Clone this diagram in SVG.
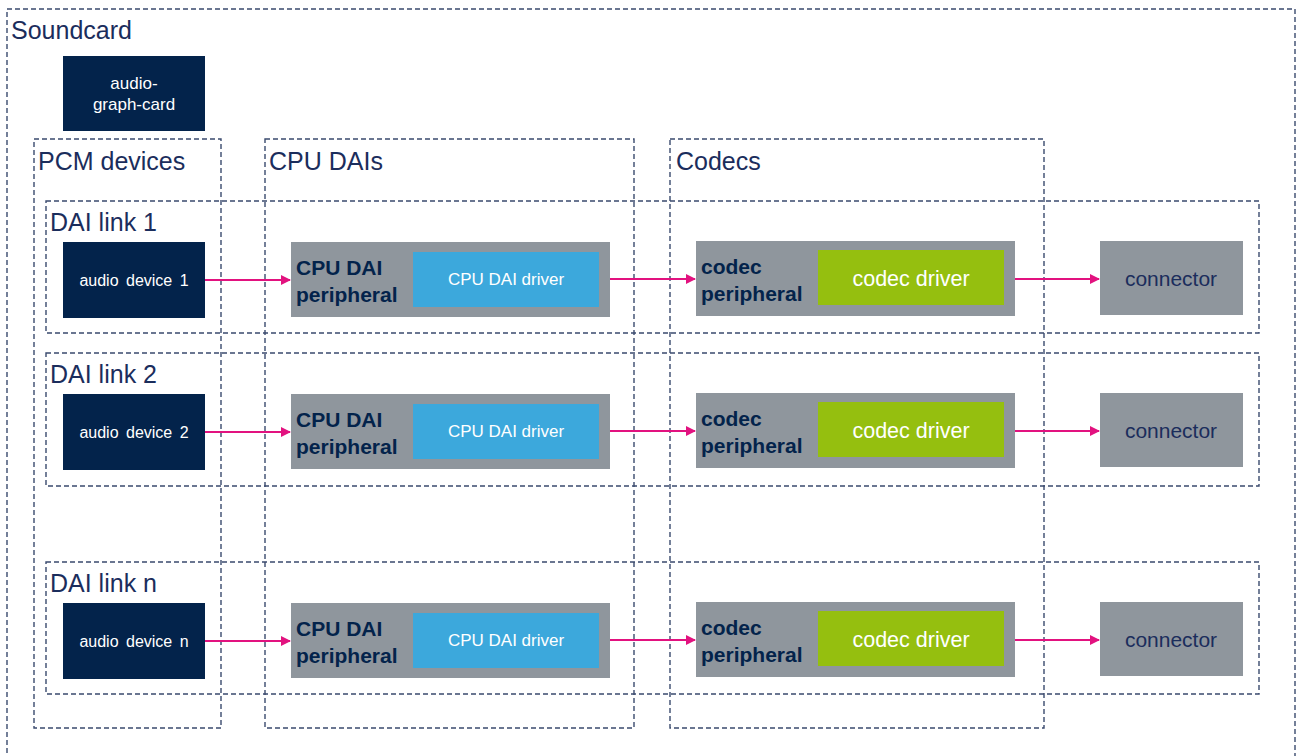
<svg xmlns="http://www.w3.org/2000/svg" width="1298" height="756" viewBox="0 0 1298 756">
<defs>
<style>
.dash{fill:none;stroke:#3a4a6e;stroke-width:1.4;stroke-dasharray:5 3}
.lbl{font-family:"Liberation Sans",Arial,sans-serif;font-size:25px;fill:#1b2d5c}
.navy{fill:#03234b}
.gray{fill:#8f969d}
.blue{fill:#3ca8dc}
.green{fill:#95bf0f}
.wt{font-family:"Liberation Sans",Arial,sans-serif;fill:#ffffff;text-anchor:middle}
.bt{font-family:"Liberation Sans",Arial,sans-serif;font-weight:bold;font-size:21px;fill:#03234b}
.ct{font-family:"Liberation Sans",Arial,sans-serif;font-size:21px;fill:#1b2d5c;text-anchor:middle}
.arr{stroke:#e2127f;stroke-width:2;fill:none;marker-end:url(#ah)}
</style>
<marker id="ah" markerWidth="10" markerHeight="10" refX="9" refY="5" orient="auto" markerUnits="userSpaceOnUse">
<path d="M0,0 L10,5 L0,10 z" fill="#e2127f"/>
</marker>
</defs>
<rect width="1298" height="756" fill="#ffffff"/>

<g id="soundcard">
<rect class="dash" x="7" y="9" width="1288" height="760"/>
<text class="lbl" x="11" y="39">Soundcard</text>
</g>

<g id="audio-graph-card">
<rect class="navy" x="63" y="56" width="142" height="75"/>
<text class="wt" font-size="17" x="134" y="89">audio-</text>
<text class="wt" font-size="17" x="134" y="110">graph-card</text>
</g>

<g id="pcm-devices">
<rect class="dash" x="34" y="139" width="187" height="589"/>
<text class="lbl" x="38" y="170">PCM devices</text>
</g>
<g id="cpu-dais">
<rect class="dash" x="265" y="139" width="369" height="589"/>
<text class="lbl" x="269" y="170">CPU DAIs</text>
</g>
<g id="codecs">
<rect class="dash" x="670" y="139" width="374" height="589"/>
<text class="lbl" x="676" y="170">Codecs</text>
</g>

<g id="dai-link-1">
<rect class="dash" x="46" y="201" width="1213" height="132"/>
<text class="lbl" x="50" y="231">DAI link 1</text>
</g>
<g id="dai-link-2">
<rect class="dash" x="46" y="353" width="1213" height="133"/>
<text class="lbl" x="50" y="383">DAI link 2</text>
</g>
<g id="dai-link-n">
<rect class="dash" x="46" y="562" width="1213" height="132"/>
<text class="lbl" x="50" y="592">DAI link n</text>
</g>

<!-- Row 1 -->
<g id="audio-device-1">
<rect class="navy" x="63" y="242" width="142" height="76"/>
<text class="wt" font-size="16" x="134" y="286" word-spacing="3">audio device 1</text>
</g>
<g id="cpu-dai-peripheral-1">
<rect class="gray" x="291" y="242" width="319" height="75"/>
<text class="bt" x="296" y="275">CPU DAI</text>
<text class="bt" x="296" y="302">peripheral</text>
</g>
<g id="cpu-dai-driver-1">
<rect class="blue" x="413" y="252" width="186" height="55"/>
<text class="wt" font-size="17" x="506" y="285">CPU DAI driver</text>
</g>
<g id="codec-peripheral-1">
<rect class="gray" x="696" y="241" width="319" height="75"/>
<text class="bt" x="701" y="274">codec</text>
<text class="bt" x="701" y="301">peripheral</text>
</g>
<g id="codec-driver-1">
<rect class="green" x="818" y="250" width="186" height="55"/>
<text class="wt" font-size="21.5" x="911" y="286">codec driver</text>
</g>
<g id="connector-1">
<rect class="gray" x="1100" y="241" width="143" height="74"/>
<text class="ct" x="1171" y="286">connector</text>
</g>

<!-- Row 2 -->
<g id="audio-device-2">
<rect class="navy" x="63" y="394" width="142" height="76"/>
<text class="wt" font-size="16" x="134" y="438" word-spacing="3">audio device 2</text>
</g>
<g id="cpu-dai-peripheral-2">
<rect class="gray" x="291" y="394" width="319" height="75"/>
<text class="bt" x="296" y="427">CPU DAI</text>
<text class="bt" x="296" y="454">peripheral</text>
</g>
<g id="cpu-dai-driver-2">
<rect class="blue" x="413" y="404" width="186" height="55"/>
<text class="wt" font-size="17" x="506" y="437">CPU DAI driver</text>
</g>
<g id="codec-peripheral-2">
<rect class="gray" x="696" y="393" width="319" height="75"/>
<text class="bt" x="701" y="426">codec</text>
<text class="bt" x="701" y="453">peripheral</text>
</g>
<g id="codec-driver-2">
<rect class="green" x="818" y="402" width="186" height="55"/>
<text class="wt" font-size="21.5" x="911" y="438">codec driver</text>
</g>
<g id="connector-2">
<rect class="gray" x="1100" y="393" width="143" height="74"/>
<text class="ct" x="1171" y="438">connector</text>
</g>

<!-- Row n -->
<g id="audio-device-n">
<rect class="navy" x="63" y="603" width="142" height="76"/>
<text class="wt" font-size="16" x="134" y="647" word-spacing="3">audio device n</text>
</g>
<g id="cpu-dai-peripheral-n">
<rect class="gray" x="291" y="603" width="319" height="75"/>
<text class="bt" x="296" y="636">CPU DAI</text>
<text class="bt" x="296" y="663">peripheral</text>
</g>
<g id="cpu-dai-driver-n">
<rect class="blue" x="413" y="613" width="186" height="55"/>
<text class="wt" font-size="17" x="506" y="646">CPU DAI driver</text>
</g>
<g id="codec-peripheral-n">
<rect class="gray" x="696" y="602" width="319" height="75"/>
<text class="bt" x="701" y="635">codec</text>
<text class="bt" x="701" y="662">peripheral</text>
</g>
<g id="codec-driver-n">
<rect class="green" x="818" y="611" width="186" height="55"/>
<text class="wt" font-size="21.5" x="911" y="647">codec driver</text>
</g>
<g id="connector-n">
<rect class="gray" x="1100" y="602" width="143" height="74"/>
<text class="ct" x="1171" y="647">connector</text>
</g>

<g id="connectors">
<line class="arr" x1="205" y1="280" x2="290" y2="280"/>
<line class="arr" x1="610" y1="279" x2="695" y2="279"/>
<line class="arr" x1="1015" y1="279" x2="1099" y2="279"/>
<line class="arr" x1="205" y1="432" x2="290" y2="432"/>
<line class="arr" x1="610" y1="431" x2="695" y2="431"/>
<line class="arr" x1="1015" y1="431" x2="1099" y2="431"/>
<line class="arr" x1="205" y1="641" x2="290" y2="641"/>
<line class="arr" x1="610" y1="640" x2="695" y2="640"/>
<line class="arr" x1="1015" y1="640" x2="1099" y2="640"/>
</g>
</svg>
